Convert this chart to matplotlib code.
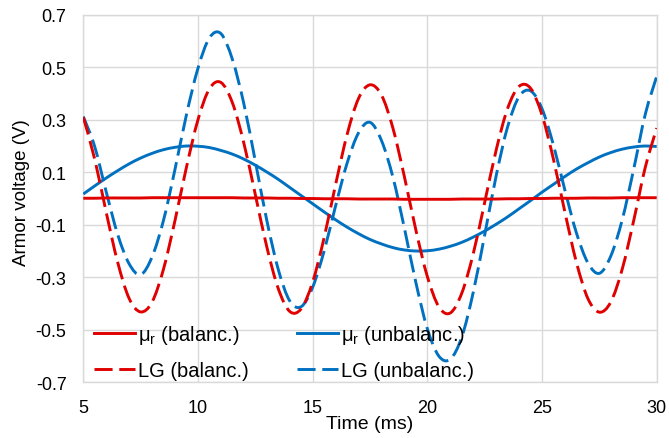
import numpy as np
import matplotlib
matplotlib.use("Agg")
import matplotlib.pyplot as plt
from matplotlib.path import Path
from matplotlib.patches import PathPatch
from matplotlib.lines import Line2D

plt.rcParams["font.family"] = ["Liberation Sans", "DejaVu Sans"]
plt.rcParams["mathtext.fontset"] = "custom"
plt.rcParams["mathtext.rm"] = "Liberation Sans"

# time axis (ms), sampled every 0.5 ms
time_ms = np.linspace(5, 30, 51)

mu_r_balanced = [
    0.001, 0.001, 0.002, 0.002, 0.002, 0.002, 0.003, 0.003, 0.003, 0.003,
    0.003, 0.003, 0.003, 0.003, 0.002, 0.002, 0.002, 0.001, 0.001, 0.000,
    0.000, -0.001, -0.001, -0.001, -0.002, -0.002, -0.002, -0.002, -0.003, -0.003,
    -0.003, -0.003, -0.003, -0.002, -0.002, -0.002, -0.002, -0.001, -0.001, 0.000,
    0.000, 0.001, 0.001, 0.001, 0.002, 0.002, 0.002, 0.003, 0.003, 0.003,
    0.003,
]
mu_r_unbalanced = [
    0.017, 0.048, 0.078, 0.106, 0.132, 0.154, 0.172, 0.186, 0.195, 0.200,
    0.199, 0.194, 0.183, 0.169, 0.150, 0.127, 0.101, 0.073, 0.042, 0.011,
    -0.020, -0.051, -0.081, -0.109, -0.134, -0.156, -0.173, -0.187, -0.196, -0.200,
    -0.199, -0.193, -0.182, -0.167, -0.147, -0.124, -0.098, -0.070, -0.039, -0.008,
    0.024, 0.054, 0.084, 0.112, 0.136, 0.158, 0.175, 0.188, 0.196, 0.200,
    0.198,
]
lg_balanced = [
    0.310, 0.149, -0.053, -0.243, -0.381, -0.432, -0.394, -0.268, -0.083, 0.120,
    0.300, 0.418, 0.442, 0.365, 0.211, 0.015, -0.184, -0.343, -0.430, -0.420,
    -0.318, -0.149, 0.053, 0.243, 0.381, 0.433, 0.394, 0.268, 0.083, -0.120,
    -0.297, -0.412, -0.436, -0.361, -0.211, -0.015, 0.184, 0.343, 0.427, 0.420,
    0.318, 0.149, -0.053, -0.243, -0.381, -0.433, -0.394, -0.268, -0.083, 0.118,
    0.268,
]
lg_unbalanced = [
    0.312, 0.197, 0.025, -0.137, -0.249, -0.290, -0.222, -0.082, 0.112, 0.320,
    0.496, 0.612, 0.628, 0.530, 0.361, 0.142, -0.083, -0.270, -0.390, -0.412,
    -0.338, -0.200, -0.028, 0.134, 0.250, 0.290, 0.221, 0.081, -0.113, -0.320,
    -0.496, -0.600, -0.612, -0.528, -0.358, -0.139, 0.086, 0.273, 0.388, 0.410,
    0.342, 0.203, 0.031, -0.131, -0.245, -0.285, -0.219, -0.080, 0.113, 0.320,
    0.465,
]

RED = "#E00000"
BLUE = "#0070C0"
GRID = "#D9D9D9"
DASH = (0, (6.2, 2.3))
LW = 2.1


def smooth_path(x, y):
    # Excel-like smoothed line: Catmull-Rom segments as cubic Beziers
    pts = np.column_stack([x, y])
    verts = [pts[0]]
    codes = [Path.MOVETO]
    n = len(pts)
    for i in range(n - 1):
        p0 = pts[i - 1] if i > 0 else pts[i]
        p1 = pts[i]
        p2 = pts[i + 1]
        p3 = pts[i + 2] if i + 2 < n else pts[i + 1]
        verts += [p1 + (p2 - p0) / 6, p2 - (p3 - p1) / 6, p2]
        codes += [Path.CURVE4] * 3
    return Path(verts, codes)


fig = plt.figure(figsize=(6.69, 4.39), dpi=100)
ax = fig.add_axes([0.1245, 0.1269, 0.8571, 0.8373])

series = [
    (mu_r_unbalanced, BLUE, "-"),
    (lg_unbalanced, BLUE, DASH),
    (lg_balanced, RED, DASH),
    (mu_r_balanced, RED, "-"),
]
for values, color, ls in series:
    ax.add_patch(PathPatch(smooth_path(time_ms, values), fill=False, edgecolor=color,
                           lw=LW, linestyle=ls, capstyle="butt", joinstyle="round", zorder=3))

ax.set_xlim(5, 30)
ax.set_ylim(-0.7, 0.7)
ax.set_xticks([5, 10, 15, 20, 25, 30])
ax.set_yticks([-0.7, -0.5, -0.3, -0.1, 0.1, 0.3, 0.5, 0.7])
ax.set_yticklabels(["-0.7", "-0.5", "-0.3", "-0.1", "0.1", "0.3", "0.5", "0.7"])
ax.tick_params(length=0, labelsize=13, colors="black")
ax.tick_params(axis="x", pad=12)
ax.tick_params(axis="y", pad=12)
ax.grid(True, color=GRID, lw=1.0)
ax.set_axisbelow(True)
for sp in ax.spines.values():
    sp.set_color(GRID)
    sp.set_linewidth(1.0)

ax.set_xlabel("Time (ms)", fontsize=14)
ax.xaxis.set_label_coords(0.5, -0.088)
ax.set_ylabel("Armor voltage (V)", fontsize=13.5)
ax.yaxis.set_label_coords(-0.093, 0.52)

handles = [
    Line2D([], [], color=RED, lw=LW, ls="-"),
    Line2D([], [], color=RED, lw=LW, ls=DASH),
    Line2D([], [], color=BLUE, lw=LW, ls="-"),
    Line2D([], [], color=BLUE, lw=LW, ls=DASH),
]
labels = [
    r"μ$_\mathregular{r}$ (balanc.)",
    "LG (balanc.)",
    r"μ$_\mathregular{r}$ (unbalanc.)",
    "LG (unbalanc.)",
]
ax.legend(handles, labels, ncol=2, loc="upper left", bbox_to_anchor=(0.018, 0.16),
          frameon=False, fontsize=14.5, borderpad=0, borderaxespad=0,
          handlelength=2.05, handletextpad=0.15, columnspacing=2.4, labelspacing=0.72)

fig.savefig("out.png", dpi=100)
